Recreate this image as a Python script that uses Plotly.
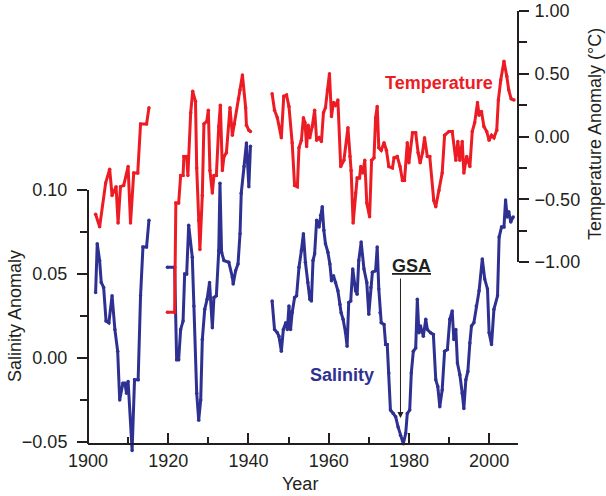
import plotly.graph_objects as go

# ---------------- data ----------------
temp_years_1 = [1901.9, 1902.9, 1904.4, 1905.4, 1906.0, 1907.0, 1907.5, 1908.1, 1908.9, 1910.0,
                1910.6, 1911.4, 1912.4, 1913.1, 1914.6, 1915.2]
temp_vals_1 = [-0.62, -0.72, -0.37, -0.26, -0.47, -0.40, -0.69, -0.40, -0.39, -0.24,
               -0.69, -0.29, -0.29, 0.10, 0.10, 0.23]

temp_years_2 = [1919.8, 1921.6, 1921.9, 1922.6, 1923.1, 1923.7, 1923.9, 1924.6, 1924.9, 1925.6,
                1926.1, 1926.8, 1927.1, 1927.6, 1927.9, 1928.5, 1928.9, 1929.6, 1930.0, 1930.4,
                1931.0, 1931.4, 1932.0, 1932.6, 1933.0, 1933.5, 1933.9, 1934.5, 1935.4, 1936.0,
                1936.5, 1937.5, 1937.9, 1938.5, 1939.3, 1939.5, 1940.1, 1940.5]
temp_vals_2 = [-1.40, -1.40, -0.53, -0.53, -0.31, -0.31, -0.16, -0.16, -0.31, 0.19,
               0.36, 0.28, -0.25, -0.67, -0.90, -0.47, 0.10, 0.12, 0.21, -0.27,
               -0.45, -0.31, -0.31, 0.08, 0.25, -0.27, -0.16, -0.13, 0.23, 0.01,
               0.10, 0.30, 0.37, 0.49, 0.23, 0.09, 0.05, 0.04]

temp_years_3 = [1945.9, 1946.5, 1947.2, 1948.2, 1948.8, 1949.5, 1950.1, 1950.9, 1951.5, 1952.2,
                1952.6, 1953.2, 1953.7, 1954.1, 1954.5, 1954.9, 1955.3, 1955.9, 1956.5, 1957.0,
                1957.6, 1958.2, 1958.7, 1959.2, 1959.7, 1960.2, 1960.7, 1961.2, 1961.7, 1962.3,
                1963.0, 1963.8, 1964.8, 1965.3, 1965.6, 1966.1, 1966.7, 1967.1, 1967.7, 1968.0,
                1968.5, 1969.0, 1969.5, 1970.2, 1970.7, 1971.3, 1971.7, 1972.1, 1972.5, 1973.1,
                1973.8, 1974.4, 1975.0, 1975.9, 1976.3, 1977.1, 1977.8, 1978.4, 1978.9, 1979.6,
                1980.0, 1980.9, 1981.7, 1982.3, 1982.8, 1983.4, 1983.9, 1984.6, 1985.2, 1986.2,
                1986.7, 1987.5, 1988.3, 1988.9, 1990.0, 1990.8, 1991.7, 1992.2, 1992.7, 1993.3,
                1993.7, 1994.4, 1995.2, 1995.8, 1996.4, 1997.1, 1997.5, 1998.1, 1998.7, 1999.4,
                2000.0, 2000.6, 2001.2, 2001.9, 2002.3, 2002.9, 2003.7, 2004.4, 2004.9, 2005.5,
                2006.2]
temp_vals_3 = [0.34, 0.21, 0.15, -0.01, 0.32, 0.33, 0.24, -0.05, -0.39, -0.40,
               -0.09, -0.03, 0.15, 0.11, -0.08, 0.09, -0.01, 0.08, 0.21, -0.03,
               -0.01, -0.04, 0.19, 0.23, 0.37, 0.50, 0.16, 0.27, 0.25, 0.29,
               -0.24, -0.19, 0.07, -0.16, -0.27, -0.69, -0.45, -0.33, -0.33, -0.24,
               -0.29, -0.19, -0.53, -0.64, -0.19, -0.17, 0.15, 0.24, -0.09, -0.11,
               -0.05, -0.11, -0.24, -0.25, -0.17, -0.16, -0.24, -0.35, -0.35, -0.05,
               -0.21, 0.03, 0.03, -0.13, -0.21, -0.13, -0.01, -0.16, -0.16, -0.51,
               -0.56, -0.43, -0.29, 0.01, 0.04, 0.04, -0.19, -0.04, -0.19, -0.04,
               -0.29, -0.16, -0.24, 0.04, 0.11, 0.27, 0.17, 0.20, 0.08, 0.04,
               -0.03, 0.01, -0.01, 0.05, 0.29, 0.45, 0.60, 0.48, 0.37, 0.30,
               0.29]

sal_years_1 = [1901.9, 1902.3, 1902.9, 1903.3, 1903.9, 1904.5, 1905.2, 1906.0, 1906.7, 1907.4,
               1907.9, 1908.7, 1909.2, 1909.6, 1910.0, 1911.0, 1911.6, 1912.5, 1913.1, 1913.7,
               1914.6, 1915.2]
sal_vals_1 = [0.039, 0.068, 0.058, 0.045, 0.042, 0.022, 0.021, 0.037, 0.017, 0.004,
              -0.025, -0.015, -0.015, -0.021, -0.014, -0.055, -0.013, -0.013, 0.037, 0.066,
              0.066, 0.082]

sal_years_2 = [1919.8, 1921.6, 1922.1, 1922.6, 1923.1, 1923.7, 1924.1, 1924.6, 1925.1, 1926.0,
               1926.4, 1927.1, 1927.6, 1928.1, 1928.5, 1929.1, 1929.7, 1930.3, 1931.0, 1931.4,
               1932.0, 1932.6, 1932.9, 1933.3, 1933.9, 1935.1, 1936.0, 1936.2, 1936.8, 1937.4,
               1937.9, 1938.2, 1938.9, 1939.5, 1940.1, 1940.5]
sal_vals_2 = [0.054, 0.054, -0.001, -0.001, 0.017, 0.022, 0.050, 0.050, 0.079, 0.060,
              0.031, -0.021, -0.037, -0.025, 0.011, 0.029, 0.035, 0.045, 0.018, 0.036,
              0.037, 0.064, 0.104, 0.063, 0.058, 0.057, 0.048, 0.044, 0.052, 0.056,
              0.074, 0.098, 0.114, 0.128, 0.102, 0.126]

sal_years_3 = [1945.9, 1946.5, 1947.2, 1947.6, 1948.2, 1948.7, 1949.3, 1949.7, 1950.1, 1950.5,
               1950.9, 1951.5, 1952.0, 1952.6, 1953.2, 1953.7, 1954.2, 1954.8, 1955.3, 1955.7,
               1956.1, 1956.5, 1957.0, 1957.6, 1958.0, 1958.4, 1958.8, 1959.2, 1959.8, 1960.3,
               1960.7, 1961.2, 1961.7, 1962.3, 1962.8, 1963.1, 1963.6, 1964.2, 1964.6, 1965.0,
               1965.5, 1966.0, 1966.7, 1967.1, 1967.5, 1968.1, 1968.8, 1969.5, 1970.0, 1970.5,
               1970.9, 1971.7, 1972.1, 1972.5, 1972.8, 1973.1, 1973.8, 1974.2, 1974.6, 1975.0,
               1975.4, 1976.1, 1976.7, 1977.3, 1977.9, 1978.6, 1979.2, 1979.6, 1980.2, 1980.6,
               1981.1, 1981.7, 1982.1, 1982.5, 1982.9, 1983.6, 1984.2, 1984.6, 1985.4, 1986.1,
               1986.7, 1987.2, 1987.7, 1988.3, 1988.9, 1989.6, 1990.2, 1990.8, 1991.2, 1991.7,
               1992.1, 1992.7, 1993.3, 1993.7, 1994.2, 1994.7, 1995.2, 1995.6, 1996.2, 1996.8,
               1997.5, 1998.3, 1998.9, 1999.6, 2000.0, 2000.6, 2001.2, 2002.1, 2002.5, 2003.1,
               2003.7, 2004.1, 2004.5, 2004.9, 2005.4, 2006.0]
sal_vals_3 = [0.034, 0.017, 0.015, 0.013, 0.004, 0.017, 0.021, 0.017, 0.031, 0.017,
              0.027, 0.036, 0.037, 0.054, 0.064, 0.074, 0.057, 0.045, 0.035, 0.034,
              0.058, 0.062, 0.082, 0.078, 0.085, 0.090, 0.076, 0.068, 0.063, 0.056,
              0.046, 0.049, 0.045, 0.040, 0.032, 0.027, 0.023, 0.015, 0.007, 0.033,
              0.034, 0.053, 0.040, 0.038, 0.058, 0.069, 0.053, 0.045, 0.026, 0.042,
              0.051, 0.052, 0.066, 0.041, 0.027, 0.021, 0.020, 0.008, 0.008, -0.009,
              -0.031, -0.033, -0.035, -0.041, -0.046, -0.051, -0.045, -0.033, -0.031, -0.009,
              0.004, 0.006, 0.035, 0.015, 0.019, 0.013, 0.023, 0.017, 0.015, 0.014,
              -0.013, -0.017, -0.029, -0.019, 0.004, 0.005, 0.023, 0.028, 0.011, 0.017,
              -0.003, -0.010, -0.021, -0.030, -0.013, -0.008, 0.009, 0.019, 0.021, 0.031,
              0.040, 0.059, 0.047, 0.041, 0.015, 0.008, 0.029, 0.037, 0.072, 0.078,
              0.078, 0.094, 0.084, 0.087, 0.081, 0.084]

sal_ticks = [-0.05, 0.00, 0.05, 0.10]
sal_tick_text = ["\u22120.05", "0.00", "0.05", "0.10"]
sal_minor = [-0.025, 0.025, 0.075]
temp_ticks = [-1.0, -0.5, 0.0, 0.5, 1.0]
temp_tick_text = ["\u22121.00", "\u22120.50", "0.00", "0.50", "1.00"]
temp_minor = [-0.75, -0.25, 0.25, 0.75]
year_ticks = [1900, 1920, 1940, 1960, 1980, 2000]

gsa_year = 1977.9
gsa_tip, gsa_tail = -0.0357, 0.0482


def join(*segs):
    xs, ys = [], []
    for i, (a, b) in enumerate(segs):
        if i:
            xs.append(None)
            ys.append(None)
        xs.extend(a)
        ys.extend(b)
    return xs, ys


RED = "#ed1c24"
BLUE = "#2e3192"
INK = "#231f20"
FONT = "Liberation Sans, Arial, Helvetica, sans-serif"

tx, ty = join((temp_years_1, temp_vals_1), (temp_years_2, temp_vals_2), (temp_years_3, temp_vals_3))
sx, sy = join((sal_years_1, sal_vals_1), (sal_years_2, sal_vals_2), (sal_years_3, sal_vals_3))

fig = go.Figure()
fig.add_trace(go.Scatter(x=sx, y=sy, mode="lines+markers", yaxis="y",
                         line=dict(color=BLUE, width=3), marker=dict(color=BLUE, size=3.5),
                         showlegend=False, hoverinfo="skip"))
fig.add_trace(go.Scatter(x=tx, y=ty, mode="lines+markers", yaxis="y2",
                         line=dict(color=RED, width=3), marker=dict(color=RED, size=3.5),
                         showlegend=False, hoverinfo="skip"))

# plot area spans pixel rows 5..455; x axis is drawn at row 444
SAL_RANGE = [-0.057738, 0.210119]
TEMP_RANGE = [-2.53785, 1.04781]
X_RANGE = [1900, 2007.2]

fig.update_layout(
    width=606, height=496,
    margin=dict(l=88, r=88, t=5, b=41, autoexpand=False),
    paper_bgcolor="white", plot_bgcolor="white",
    font=dict(family=FONT, size=18, color=INK),
    xaxis=dict(range=X_RANGE, anchor="free", position=11 / 450, automargin=False,
               tickvals=year_ticks, ticks="inside", ticklen=10, tickwidth=2, tickcolor=INK,
               minor=dict(dtick=10, tick0=1900, ticks="inside", ticklen=6, tickwidth=2, tickcolor=INK),
               showline=True, linecolor=INK, linewidth=2, showgrid=False, zeroline=False,
               tickfont=dict(size=18, color=INK)),
    yaxis=dict(range=SAL_RANGE, tickvals=sal_ticks, ticktext=sal_tick_text, automargin=False,
               ticks="outside", ticklen=10, tickwidth=2, tickcolor=INK, ticklabelstandoff=6,
               minor=dict(tickvals=sal_minor, ticks="outside", ticklen=7, tickwidth=2, tickcolor=INK),
               showline=False, showgrid=False, zeroline=False,
               tickfont=dict(size=18, color=INK)),
    yaxis2=dict(range=TEMP_RANGE, overlaying="y", side="right", anchor="x", automargin=False,
                tickvals=temp_ticks, ticktext=temp_tick_text, ticklabelstandoff=2,
                ticks="outside", ticklen=10, tickwidth=2, tickcolor=INK,
                minor=dict(tickvals=temp_minor, ticks="outside", ticklen=8, tickwidth=2, tickcolor=INK),
                showline=False, showgrid=False, zeroline=False,
                tickfont=dict(size=18, color=INK)),
    shapes=[
        dict(type="line", xref="paper", yref="y", x0=0, x1=0, y0=-0.0512, y1=0.10,
             line=dict(color=INK, width=2)),
        dict(type="line", xref="paper", yref="y2", x0=1, x1=1, y0=-1.0, y1=1.0,
             line=dict(color=INK, width=2)),
    ],
    annotations=[
        dict(text="Salinity Anomaly", xref="paper", yref="paper", x=-0.1698, y=0.3089,
             textangle=-90, showarrow=False, xanchor="center", yanchor="middle",
             font=dict(size=18, color=INK)),
        dict(text="Temperature Anomaly (°C)", xref="paper", yref="paper", x=1.1791, y=0.7133,
             textangle=-90, showarrow=False, xanchor="center", yanchor="middle",
             font=dict(size=18, color=INK)),
        dict(text="Year", xref="paper", yref="paper", x=0.493, y=-0.0644,
             showarrow=False, xanchor="center", yanchor="middle",
             font=dict(size=18, color=INK)),
        dict(text="<b>Temperature</b>", xref="x", yref="y2", x=1987.4, y=0.426,
             showarrow=False, xanchor="center", yanchor="middle",
             font=dict(size=18, color=RED)),
        dict(text="<b>Salinity</b>", xref="x", yref="y", x=1963.2, y=-0.0101,
             showarrow=False, xanchor="center", yanchor="middle",
             font=dict(size=18, color=BLUE)),
        dict(text="<b><u>GSA</u></b>", xref="x", yref="y", x=1980.7, y=0.0548,
             showarrow=False, xanchor="center", yanchor="middle",
             font=dict(size=18, color=INK)),
        dict(text="", xref="x", yref="y", x=gsa_year, y=gsa_tip,
             axref="x", ayref="y", ax=gsa_year, ay=gsa_tail,
             showarrow=True, arrowhead=2, arrowsize=1.2, arrowwidth=1, arrowcolor=INK),
    ],
)

fig.write_html("out.html", config={"displayModeBar": False},
               post_script="document.body.style.margin='0';document.body.style.overflow='hidden';")
